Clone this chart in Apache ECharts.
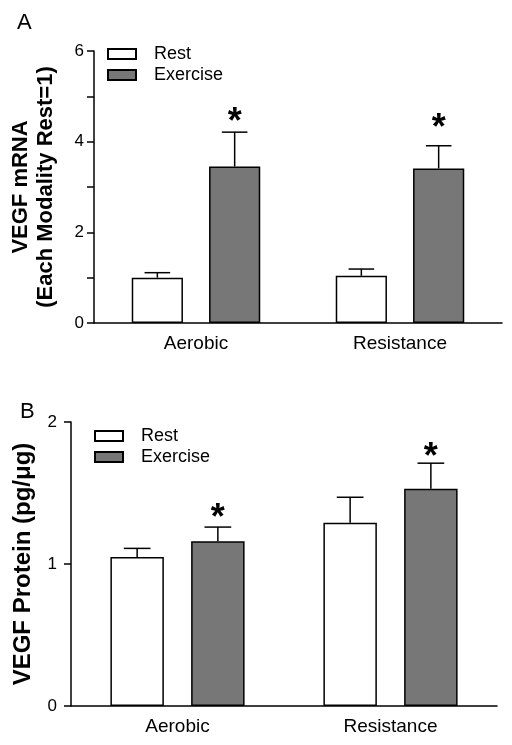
<!DOCTYPE html>
<html>
<head>
<meta charset="utf-8">
<script src="https://cdn.jsdelivr.net/npm/echarts@6/dist/echarts.min.js"></script>
<style>html,body{margin:0;padding:0;background:#fff;}#c{width:512px;height:745px;}</style>
</head>
<body>
<div id="c"></div>
<script>
// ---- data ----
const categories = ['Aerobic', 'Resistance'];
const seriesNames = ['Rest', 'Exercise'];
// Panel A: VEGF mRNA
const restA = [1.00, 1.04];
const restA_err = [0.11, 0.15];
const exA = [3.45, 3.41];
const exA_err = [0.76, 0.50];
const starA = [4.59, 4.46];          // asterisk positions (data units)
const ticksA = [0, 2, 4, 6];          // labelled ticks
// Panel B: VEGF protein
const restB = [1.05, 1.29];
const restB_err = [0.06, 0.18];
const exB = [1.16, 1.53];
const exB_err = [0.10, 0.18];
const starB = [1.37, 1.80];
const ticksB = [0, 1, 2];

const FONT = "'Liberation Sans', Arial, Helvetica, sans-serif";
const CAT_GAP = 0.37, BAR_GAP = 0.51;

function errData(vals, errs, stars) {
  return vals.map((v, i) => [i, v, errs[i], stars ? stars[i] : -999]);
}
function errRender(sign) {
  return function (params, api) {
    const ci = api.value(0), v = api.value(1), e = api.value(2), s = api.value(3);
    const band = api.size([1, 0])[0];
    const w = band * (1 - CAT_GAP) / (2 + BAR_GAP);
    const off = sign * w * (1 + BAR_GAP) / 2;
    const base = api.coord([ci, v]);
    const top = api.coord([ci, v + e]);
    const x = base[0] + off;
    const cap = w * 0.25;
    const st = { stroke: '#000', lineWidth: 1.5 };
    const children = [
      { type: 'line', shape: { x1: x, y1: base[1], x2: x, y2: top[1] }, style: st },
      { type: 'line', shape: { x1: x - cap, y1: top[1], x2: x + cap, y2: top[1] }, style: st }
    ];
    if (s > -100) {
      const sp = api.coord([ci, s]);
      children.push({ type: 'text', style: { text: '*', x: x, y: sp[1] + 8, align: 'center', verticalAlign: 'middle',
        font: 'bold 36px ' + FONT, fill: '#000' } });
    }
    return { type: 'group', children: children };
  };
}

const axisLineStyle = { color: '#000', width: 1.5 };

const option = {
  animation: false,
  backgroundColor: '#fff',
  textStyle: { fontFamily: FONT },
  title: [
    { text: 'A', left: 12, top: 7, textStyle: { fontSize: 22, fontWeight: 'normal', color: '#000', fontFamily: FONT } },
    { text: 'B', left: 15, top: 396, textStyle: { fontSize: 22, fontWeight: 'normal', color: '#000', fontFamily: FONT } }
  ],
  legend: [
    { data: seriesNames, orient: 'vertical', left: 107, top: 45, padding: 0, itemWidth: 28, itemHeight: 10, itemGap: 3,
      icon: 'rect', selectedMode: false,
      textStyle: { fontSize: 18, color: '#000', fontFamily: FONT, padding: [0, 0, 0, 13] } },
    { data: seriesNames, orient: 'vertical', left: 94, top: 427, padding: 0, itemWidth: 28, itemHeight: 10, itemGap: 3,
      icon: 'rect', selectedMode: false,
      textStyle: { fontSize: 18, color: '#000', fontFamily: FONT, padding: [0, 0, 0, 13] } }
  ],
  grid: [
    { left: 93, right: 10, top: 51, bottom: 422 },
    { left: 71, right: 15, top: 422, bottom: 39 }
  ],
  xAxis: [0, 1].map(g => ({
    type: 'category', gridIndex: g, data: categories,
    axisLine: { lineStyle: axisLineStyle }, axisTick: { show: false },
    axisLabel: { fontSize: 19, color: '#000', margin: 11, fontFamily: FONT }
  })),
  yAxis: [
    { type: 'value', gridIndex: 0, min: 0, max: 6, interval: 1,
      axisLine: { show: true, lineStyle: axisLineStyle },
      axisTick: { show: true, length: 7, lineStyle: axisLineStyle },
      splitLine: { show: false },
      axisLabel: { fontSize: 17, color: '#000', margin: 10, fontFamily: FONT,
        formatter: v => ticksA.indexOf(v) >= 0 ? String(v) : '' },
      name: 'VEGF mRNA\n(Each Modality Rest=1)', nameLocation: 'middle', nameGap: 36, nameRotate: 90,
      nameTextStyle: { fontSize: 22, fontWeight: 'bold', color: '#000', lineHeight: 25, fontFamily: FONT } },
    { type: 'value', gridIndex: 1, min: 0, max: 2, interval: 1,
      axisLine: { show: true, lineStyle: axisLineStyle },
      axisTick: { show: true, length: 7, lineStyle: axisLineStyle },
      splitLine: { show: false },
      axisLabel: { fontSize: 17, color: '#000', margin: 14, fontFamily: FONT,
        formatter: v => ticksB.indexOf(v) >= 0 ? String(v) : '' },
      name: 'VEGF Protein (pg/μg)', nameLocation: 'middle', nameGap: 36, nameRotate: 90,
      nameTextStyle: { fontSize: 24, fontWeight: 'bold', color: '#000', fontFamily: FONT } }
  ],
  series: [
    { name: 'Rest', type: 'bar', xAxisIndex: 0, yAxisIndex: 0, data: restA, barGap: (BAR_GAP * 100) + '%', barCategoryGap: (CAT_GAP * 100) + '%',
      itemStyle: { color: '#ffffff', borderColor: '#000', borderWidth: 1.5 } },
    { name: 'Exercise', type: 'bar', xAxisIndex: 0, yAxisIndex: 0, data: exA, barGap: (BAR_GAP * 100) + '%', barCategoryGap: (CAT_GAP * 100) + '%',
      itemStyle: { color: '#777777', borderColor: '#000', borderWidth: 1.5 } },
    { name: 'Rest', type: 'bar', xAxisIndex: 1, yAxisIndex: 1, data: restB, barGap: (BAR_GAP * 100) + '%', barCategoryGap: (CAT_GAP * 100) + '%',
      itemStyle: { color: '#ffffff', borderColor: '#000', borderWidth: 1.5 } },
    { name: 'Exercise', type: 'bar', xAxisIndex: 1, yAxisIndex: 1, data: exB, barGap: (BAR_GAP * 100) + '%', barCategoryGap: (CAT_GAP * 100) + '%',
      itemStyle: { color: '#777777', borderColor: '#000', borderWidth: 1.5 } },
    { name: 'errRestA', type: 'custom', xAxisIndex: 0, yAxisIndex: 0, renderItem: errRender(-1), data: errData(restA, restA_err, null), z: 3 },
    { name: 'errExA', type: 'custom', xAxisIndex: 0, yAxisIndex: 0, renderItem: errRender(1), data: errData(exA, exA_err, starA), z: 3 },
    { name: 'errRestB', type: 'custom', xAxisIndex: 1, yAxisIndex: 1, renderItem: errRender(-1), data: errData(restB, restB_err, null), z: 3 },
    { name: 'errExB', type: 'custom', xAxisIndex: 1, yAxisIndex: 1, renderItem: errRender(1), data: errData(exB, exB_err, starB), z: 3 }
  ]
};
const chart = echarts.init(document.getElementById('c'), null, { renderer: 'canvas' });
chart.setOption(option);
</script>
</body>
</html>
